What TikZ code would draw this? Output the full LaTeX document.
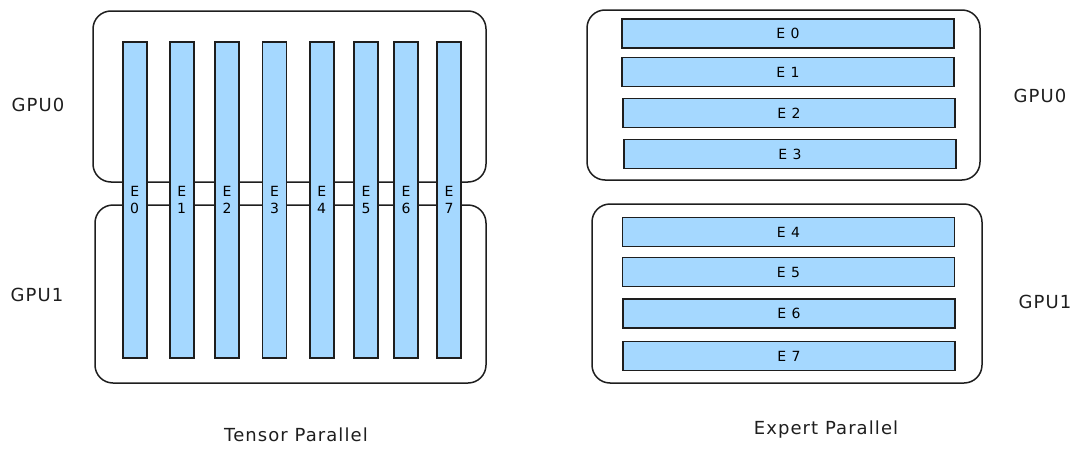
\documentclass[tikz,border=0pt]{standalone}
\usepackage{fontspec}
\setmainfont[LetterSpace=6]{DejaVu Sans}
\definecolor{ink}{HTML}{1E1E1E}
\definecolor{expertblue}{HTML}{A5D8FF}
\tikzset{
	gpubox/.style={draw=ink, line width=1.5pt, rounded corners=18pt, fill=white, inner sep=0pt},
	tpbar/.style={draw=ink, fill=expertblue, line width=1.8pt, minimum width=24pt, minimum height=316pt, inner sep=0pt, align=center, font=\fontsize{14}{17}\selectfont},
	epbar/.style={draw=ink, fill=expertblue, line width=1.8pt, minimum width=332pt, minimum height=29pt, inner sep=0pt, font=\fontsize{14}{16}\selectfont},
	gpulabel/.style={text=ink, font=\fontsize{18}{21}\selectfont},
}
\begin{document}
\begin{tikzpicture}[x=1pt, y=-1pt]
		\useasboundingbox (0,0) rectangle (1080,458);
		% tensor parallel
		\node[gpubox, minimum width=393pt, minimum height=171pt] (tpgpu0) at (289.5,96.5) {};
		\node[gpubox, minimum width=391pt, minimum height=178pt] (tpgpu1) at (290.5,294) {};
		\node[tpbar] (tpe0) at (134.7,200) {E\\0};
		\node[tpbar] (tpe1) at (181.7,200) {E\\1};
		\node[tpbar] (tpe2) at (227,200) {E\\2};
		\node[tpbar] (tpe3) at (274.5,200) {E\\3};
		\node[tpbar] (tpe4) at (321.7,200) {E\\4};
		\node[tpbar] (tpe5) at (366,200) {E\\5};
		\node[tpbar] (tpe6) at (406,200) {E\\6};
		\node[tpbar] (tpe7) at (449,200) {E\\7};
		\node[gpulabel] (tplabel0) at (38,105) {GPU0};
		\node[gpulabel] (tplabel1) at (37,295) {GPU1};
		\node[gpulabel] (tptitle) at (296,435) {Tensor Parallel};
		% expert parallel
		\node[gpubox, minimum width=393pt, minimum height=170pt] (epgpu0) at (783.5,95) {};
		\node[gpubox, minimum width=390pt, minimum height=179pt] (epgpu1) at (787,293.5) {};
		\node[epbar] (epe0) at (788,33.5) {E 0};
		\node[epbar] (epe1) at (788,72) {E 1};
		\node[epbar] (epe2) at (789,113) {E 2};
		\node[epbar] (epe3) at (790,154) {E 3};
		\node[epbar] (epe4) at (788.5,232) {E 4};
		\node[epbar] (epe5) at (788.5,272) {E 5};
		\node[epbar] (epe6) at (789,313.5) {E 6};
		\node[epbar] (epe7) at (789,356) {E 7};
		\node[gpulabel] (eplabel0) at (1040,96) {GPU0};
		\node[gpulabel] (eplabel1) at (1045,302) {GPU1};
		\node[gpulabel] (eptitle) at (826,430) {Expert Parallel};
	\end{tikzpicture}
\end{document}
